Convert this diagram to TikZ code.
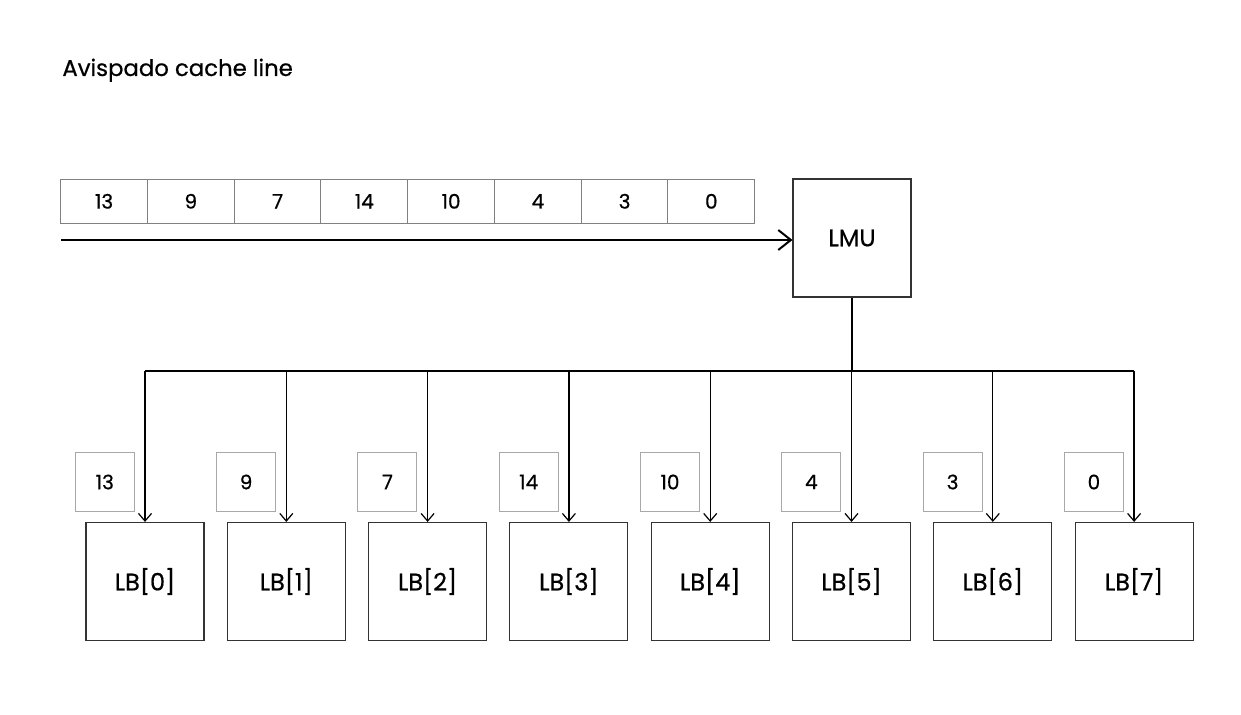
\documentclass[tikz,border=0pt]{standalone}
\usepackage{fontspec}
\setmainfont[FakeBold=0.6]{Poppins}
\usetikzlibrary{arrows.meta}
\definecolor{cellgray}{HTML}{808080}
\definecolor{labgray}{HTML}{A8A8A8}
\definecolor{boxdark}{HTML}{333333}
\tikzset{
  cellbox/.style={draw=cellgray, line width=0.5pt, minimum width=43.4pt, minimum height=22pt, inner sep=0pt, font=\fontsize{10}{11}\selectfont},
  bigbox/.style={draw=boxdark, line width=0.55pt, minimum width=59pt, minimum height=59pt, inner sep=0pt, font=\fontsize{12}{14}\selectfont},
  labbox/.style={draw=labgray, line width=0.5pt, minimum width=29.5pt, minimum height=29.5pt, inner sep=0pt, font=\fontsize{10}{11}\selectfont},
  mainarrow/.style={line width=1.1pt, -{Straight Barb[length=6.3pt,width=10pt,line width=1pt]}},
  busline/.style={line width=0.65pt, draw=black},
  droparrow/.style={line width=0.65pt, -{Straight Barb[length=3.8pt,width=6.5pt,line width=0.6pt]}}
}
\begin{document}
\begin{tikzpicture}[x=0.5pt,y=-0.5pt]
\useasboundingbox (0,0) rectangle (1241,715);
\node[anchor=base west, inner sep=0pt, font=\fontsize{11.4}{13}\selectfont] (title) at (62,76) {Avispado cache line};
% top cells
\foreach \v [count=\i from 0] in {13,9,7,14,10,4,3,0} {
  \node[cellbox] (c\i) at ({60.7+43.375+86.75*\i},201.3) {\v};
}
\node[bigbox] (LMU) at (852,238) {LMU};
\coordinate (start) at (61,240);
\draw[mainarrow] (start) -- (start -| LMU.west);
% LB boxes
\foreach \v [count=\i from 0] in {13,9,7,14,10,4,3,0} {
  \node[bigbox] (lb\i) at ({145+141.3*\i},581.5) {LB[\i]};
  \node[labbox] (lab\i) at ({104.8+141.3*\i},482) {\v};
}
\coordinate (bus) at (852,371);
\draw[busline] (LMU.south) -- (LMU.south |- bus);
\draw[busline] (lb0.north |- bus) -- (lb7.north |- bus);
\foreach \i in {0,...,7} {
  \draw[droparrow] (lb\i.north |- bus) -- (lb\i.north);
}
\end{tikzpicture}
\end{document}
